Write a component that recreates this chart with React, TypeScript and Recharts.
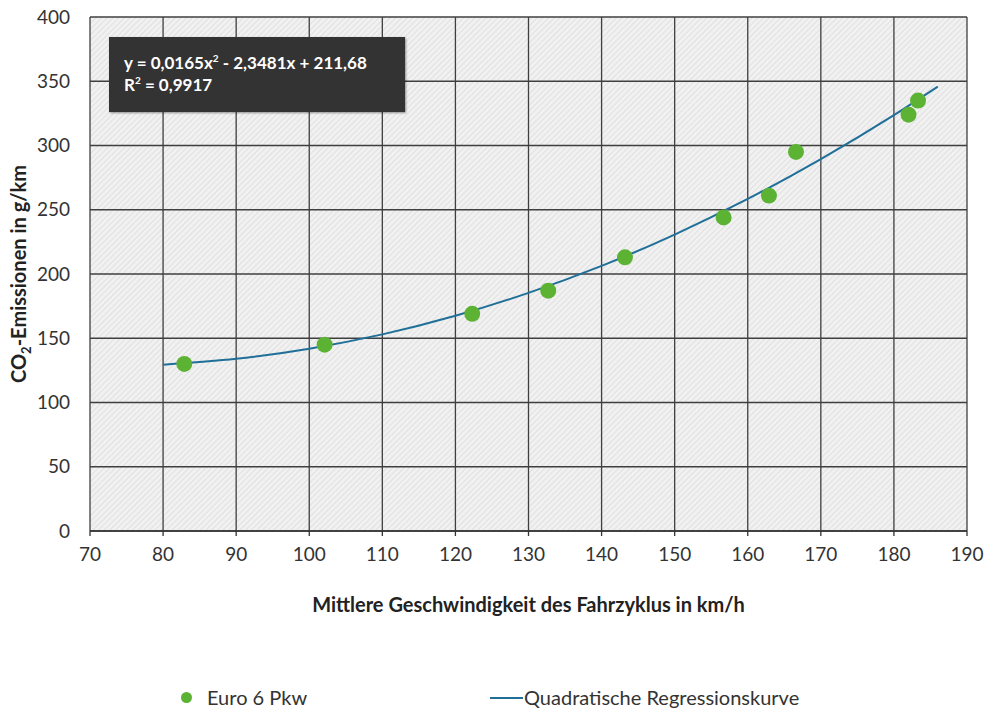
import React from "react";
import {
  ComposedChart,
  Scatter,
  Line,
  XAxis,
  YAxis,
  ZAxis,
  CartesianGrid,
} from "recharts";

// Messpunkte Euro 6 Pkw (km/h, g/km)
const speedKmh = [82.9, 102.1, 122.3, 132.7, 143.2, 156.7, 162.9, 166.6, 182.0, 183.3];
const co2 = [130, 145, 169, 187, 213, 244, 261, 295, 324, 335];

// Regressionskurve
const curveX = [80, 90, 100, 110, 120, 130, 140, 150, 160, 170, 180, 186];
const curveY = [129.4, 134.0, 141.9, 153.0, 167.5, 185.3, 206.3, 230.7, 258.4, 289.4, 323.6, 345.8];

const xTicks = [70, 80, 90, 100, 110, 120, 130, 140, 150, 160, 170, 180, 190];
const yTicks = [0, 50, 100, 150, 200, 250, 300, 350, 400];

const FONT = "Lato, 'Open Sans', sans-serif";
const GREEN = "#5cb233";
const BLUE = "#1f6f98";

const points = speedKmh.map((x, i) => ({ x, y: co2[i] }));
const curve = curveX.map((x, i) => ({ x, y: curveY[i] }));

const YTitle = ({ viewBox }: any) => {
  const cy = viewBox.y + viewBox.height / 2;
  return (
    <text
      x={0}
      y={0}
      transform={`translate(26, ${cy}) rotate(-90)`}
      textAnchor="middle"
      fontFamily={FONT}
      fontWeight="bold"
      fontSize={20}
      fill="#222"
    >
      CO<tspan fontSize={13} dy={5}>2</tspan>
      <tspan dy={-5}>-Emissionen in g/km</tspan>
    </text>
  );
};

const App: React.FC = () => {
  return (
    <div
      style={{
        position: "absolute",
        left: 0,
        top: 0,
        width: 988,
        height: 711,
        background: "#fff",
        fontFamily: FONT,
      }}
    >
      <svg width={0} height={0} style={{ position: "absolute" }}>
        <defs>
          <pattern
            id="hatch"
            width={4}
            height={4}
            patternUnits="userSpaceOnUse"
            patternTransform="rotate(45)"
          >
            <rect width={4} height={4} fill="#f1f1f1" />
            <line x1={0} y1={0} x2={0} y2={4} stroke="#d2d2d2" strokeWidth={1.1} />
          </pattern>
        </defs>
      </svg>

      <ComposedChart
        width={988}
        height={711}
        margin={{ top: 17, right: 21, left: 0, bottom: 99 }}
      >
        <CartesianGrid
          stroke="#3f3f3f"
          strokeWidth={1.3}
          fill="url(#hatch)"
          fillOpacity={1}
        />
        <XAxis
          dataKey="x"
          type="number"
          domain={[70, 190]}
          ticks={xTicks}
          interval={0}
          allowDataOverflow
          height={81}
          tickSize={5}
          tickMargin={12}
          axisLine={{ stroke: "#333", strokeWidth: 1.5 }}
          tickLine={{ stroke: "#333", strokeWidth: 1.3 }}
          tick={{ fontFamily: FONT, fontSize: 19, fill: "#333" }}
          label={{
            value: "Mittlere Geschwindigkeit des Fahrzyklus in km/h",
            position: "insideBottom",
            offset: 0,
            fontFamily: FONT,
            fontWeight: "bold",
            fontSize: 20,
            fill: "#222",
          }}
        />
        <YAxis
          dataKey="y"
          type="number"
          domain={[0, 400]}
          ticks={yTicks}
          interval={0}
          width={90}
          tickSize={0}
          tickMargin={20}
          axisLine={false}
          tick={{ fontFamily: FONT, fontSize: 19, fill: "#333" }}
          label={<YTitle />}
        />
        <ZAxis range={[200, 200]} />
        <Scatter
          data={points}
          dataKey="y"
          fill={GREEN}
          isAnimationActive={false}
        />
        <Line
          data={curve}
          dataKey="y"
          type="monotone"
          stroke={BLUE}
          strokeWidth={2}
          dot={false}
          activeDot={false}
          isAnimationActive={false}
        />
      </ComposedChart>

      <div
        style={{
          position: "absolute",
          left: 109,
          top: 37,
          width: 296,
          height: 75,
          background: "#333",
          boxShadow: "1px 1px 2px rgba(0,0,0,0.4)",
          color: "#fff",
          fontWeight: "bold",
          fontSize: 17,
          lineHeight: "22px",
          paddingLeft: 15,
          paddingTop: 15,
          boxSizing: "border-box",
        }}
      >
        <div>
          y = 0,0165x<sup style={{ fontSize: 10, lineHeight: 0 }}>2</sup> - 2,3481x + 211,68
        </div>
        <div>
          R<sup style={{ fontSize: 10, lineHeight: 0 }}>2</sup> = 0,9917
        </div>
      </div>

      <div
        style={{
          position: "absolute",
          left: 0,
          top: 685,
          width: 988,
          height: 26,
          fontSize: 20,
          color: "#333",
        }}
      >
        <span
          style={{
            position: "absolute",
            left: 181,
            top: 7,
            width: 11,
            height: 11,
            borderRadius: "50%",
            background: GREEN,
          }}
        />
        <span style={{ position: "absolute", left: 207, top: 0 }}>Euro 6 Pkw</span>
        <span
          style={{
            position: "absolute",
            left: 490,
            top: 12,
            width: 33,
            height: 2,
            background: BLUE,
          }}
        />
        <span style={{ position: "absolute", left: 524, top: 0 }}>
          Quadratische Regressionskurve
        </span>
      </div>
    </div>
  );
};

export default App;
